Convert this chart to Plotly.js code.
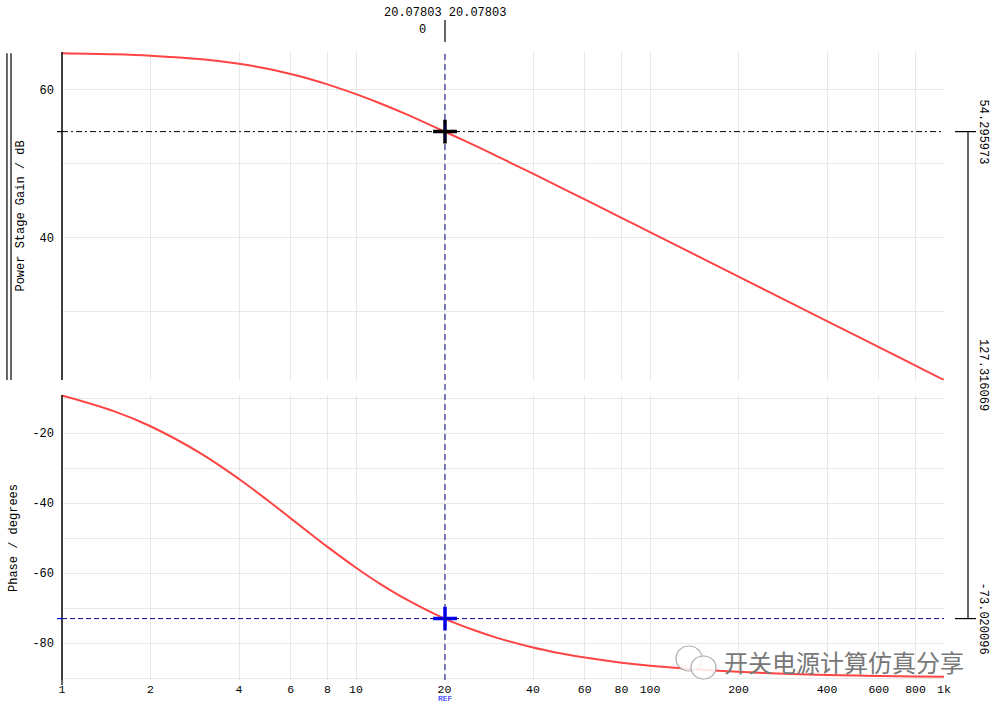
<!DOCTYPE html>
<html>
<head>
<meta charset="utf-8">
<script src="https://cdn.plot.ly/plotly-3.0.1.min.js"></script>
<style>
html,body{margin:0;padding:0;background:#fff;overflow:hidden;}
#chart{width:996px;height:704px;}
</style>
</head>
<body>
<div id="chart"></div>
<script>
// ---- data ----
var freqHz = [1, 1.5, 2, 3, 4, 5, 6, 7, 8, 10, 12, 15, 20, 25, 30, 40, 50, 60, 80, 100, 150, 200, 300, 400, 500, 600, 800, 1000];
var gainDb = [64.89, 64.75, 64.56, 64.07, 63.46, 62.79, 62.08, 61.38, 60.68, 59.36, 58.16, 56.56, 54.31, 52.54, 51.03, 48.61, 46.71, 45.14, 42.66, 40.73, 37.22, 34.72, 31.21, 28.71, 26.77, 25.19, 22.69, 20.75];
var phaseDeg = [-9.27, -13.75, -18.07, -26.08, -33.13, -39.20, -44.39, -48.79, -52.54, -58.49, -62.94, -67.77, -73.02, -76.22, -78.45, -81.29, -83.01, -84.17, -85.62, -86.49, -87.66, -88.24, -88.83, -89.12, -89.30, -89.41, -89.56, -89.65];

var xTickVals = [1, 2, 4, 6, 8, 10, 20, 40, 60, 80, 100, 200, 400, 600, 800, 1000];
var xTickText = ['1', '2', '4', '6', '8', '10', '20', '40', '60', '80', '100', '200', '400', '600', '800', '1k'];
var gainTickVals = [30, 40, 50, 60];
var gainTickText = ['', '40', '', '60'];
var phaseTickVals = [-10, -20, -30, -40, -50, -60, -70, -80, -90];
var phaseTickText = ['', '-20', '', '-40', '', '-60', '', '-80', ''];

var cursorFreq = 20.07803;
var cursorGain = 54.295973;
var cursorPhase = -73.020096;
var cursorDiff = 127.316069;

// ---- layout helpers ----
var xRange = [0, 3];            // log10 of 1 .. 1000
var gainRange = [20.75, 65.05];
var phaseRange = [-90.57, -9.14];
var gainDomain = [0.4777, 1];
var phaseDomain = [0, 0.4538];
function xPaper(f){ return (Math.log10(f) - xRange[0]) / (xRange[1] - xRange[0]); }
function yPaperGain(v){ return gainDomain[0] + (v - gainRange[0]) / (gainRange[1] - gainRange[0]) * (gainDomain[1] - gainDomain[0]); }
function yPaperPhase(v){ return phaseDomain[0] + (v - phaseRange[0]) / (phaseRange[1] - phaseRange[0]) * (phaseDomain[1] - phaseDomain[0]); }

var FONT = 'Liberation Mono, DejaVu Sans Mono, monospace';
var GRID = '#e8e8e8';
var RED = '#ff4444';

var traces = [
  {x: freqHz, y: gainDb, xaxis: 'x', yaxis: 'y', mode: 'lines', line: {color: RED, width: 2, shape: 'spline'}, hoverinfo: 'skip'},
  {x: freqHz, y: phaseDeg, xaxis: 'x2', yaxis: 'y2', mode: 'lines', line: {color: RED, width: 2, shape: 'spline'}, hoverinfo: 'skip'},
  {x: [cursorFreq], y: [cursorGain], xaxis: 'x', yaxis: 'y', mode: 'markers', cliponaxis: false,
   marker: {symbol: 'cross-thin', size: 17, color: '#000', line: {color: '#000', width: 3.5}}},
  {x: [cursorFreq], y: [cursorPhase], xaxis: 'x2', yaxis: 'y2', mode: 'markers', cliponaxis: false,
   marker: {symbol: 'cross-thin', size: 17, color: '#0000ff', line: {color: '#0000ff', width: 3.5}}}
];

var xc = xPaper(cursorFreq);
var yG = yPaperGain(cursorGain);
var yP = yPaperPhase(cursorPhase);
var xRight = (968 - 62) / 882;

var shapes = [
  // left axis lines
  {type: 'line', xref: 'paper', yref: 'paper', x0: 0, x1: 0, y0: gainDomain[0], y1: gainDomain[1], line: {color: '#000', width: 1.5}},
  {type: 'line', xref: 'paper', yref: 'paper', x0: 0, x1: 0, y0: phaseDomain[0], y1: phaseDomain[1], line: {color: '#000', width: 1.5}},
  // double legend lines far left
  {type: 'line', xref: 'paper', yref: 'paper', x0: -0.0624, x1: -0.0624, y0: gainDomain[0], y1: gainDomain[1] - 0.002, line: {color: '#000', width: 1.2}},
  {type: 'line', xref: 'paper', yref: 'paper', x0: -0.0578, x1: -0.0578, y0: gainDomain[0], y1: gainDomain[1] - 0.002, line: {color: '#000', width: 1.2}},
  // horizontal cursor lines
  {type: 'line', xref: 'paper', yref: 'paper', x0: 0, x1: 1, y0: yG, y1: yG, line: {color: '#000', width: 1, dash: '6px,3px,2px,3px'}},
  {type: 'line', xref: 'paper', yref: 'paper', x0: 0, x1: 1, y0: yP, y1: yP, line: {color: '#00009a', width: 1, dash: '5px,3px'}},
  // vertical cursor line
  {type: 'line', xref: 'paper', yref: 'paper', x0: xc, x1: xc, y0: 0, y1: 1, line: {color: '#00008a', width: 1, dash: '6px,4px'}},
  // top solid marker line above plot
  {type: 'line', xref: 'paper', yref: 'paper', x0: xc, x1: xc, y0: 1 + 10/628, y1: 1 + 32/628, line: {color: '#000', width: 1.2}},
  // left small ticks
  {type: 'line', xref: 'paper', yref: 'paper', x0: -5/882, x1: 0, y0: yG, y1: yG, line: {color: '#000', width: 1.2}},
  {type: 'line', xref: 'paper', yref: 'paper', x0: -5/882, x1: 0, y0: yP, y1: yP, line: {color: '#0000ff', width: 1.2}},
  // right difference bracket
  {type: 'line', xref: 'paper', yref: 'paper', x0: xRight, x1: xRight, y0: yP, y1: yG, line: {color: '#000', width: 1.2}},
  {type: 'line', xref: 'paper', yref: 'paper', x0: (955-62)/882, x1: (976-62)/882, y0: yG, y1: yG, line: {color: '#000', width: 1.2}},
  {type: 'line', xref: 'paper', yref: 'paper', x0: (955-62)/882, x1: (976-62)/882, y0: yP, y1: yP, line: {color: '#000', width: 1.2}},
  // bottom tick at x=1
  {type: 'line', xref: 'paper', yref: 'paper', x0: 0, x1: 0, y0: 0, y1: -5/628, line: {color: '#000', width: 1.2}},
  // watermark logo (two bubbles)
  {type: 'circle', xref: 'paper', yref: 'paper', x0: (676-62)/882, x1: (702-62)/882, y0: (680-671)/628, y1: (680-646)/628, line: {color: '#aaa', width: 1.2}, fillcolor: 'rgba(255,255,255,0.85)'},
  {type: 'circle', xref: 'paper', yref: 'paper', x0: (691-62)/882, x1: (716-62)/882, y0: (680-679)/628, y1: (680-656)/628, line: {color: '#aaa', width: 1.2}, fillcolor: 'rgba(255,255,255,0.85)'}
];

var annotations = [
  {xref: 'paper', yref: 'paper', x: -0.047, y: (gainDomain[0] + gainDomain[1]) / 2, text: 'Power Stage Gain / dB', textangle: -90, showarrow: false, font: {family: FONT, size: 12, color: '#000'}, xanchor: 'center', yanchor: 'middle'},
  {xref: 'paper', yref: 'paper', x: -0.055, y: (phaseDomain[0] + phaseDomain[1]) / 2, text: 'Phase / degrees', textangle: -90, showarrow: false, font: {family: FONT, size: 12, color: '#000'}, xanchor: 'center', yanchor: 'middle'},
  {xref: 'paper', yref: 'paper', x: xc, y: 1 + 39/628, text: cursorFreq.toFixed(5) + ' ' + cursorFreq.toFixed(5), showarrow: false, font: {family: FONT, size: 12, color: '#000'}, xanchor: 'center', yanchor: 'middle'},
  {xref: 'paper', yref: 'paper', x: (422-62)/882, y: 1 + 22/628, text: '0', showarrow: false, font: {family: FONT, size: 12, color: '#000'}, xanchor: 'center', yanchor: 'middle'},
  {xref: 'paper', yref: 'paper', x: (983-62)/882, y: yG, text: cursorGain.toFixed(6), textangle: 90, showarrow: false, font: {family: FONT, size: 12, color: '#000'}, xanchor: 'center', yanchor: 'middle'},
  {xref: 'paper', yref: 'paper', x: (983-62)/882, y: (yG + yP) / 2, text: cursorDiff.toFixed(6), textangle: 90, showarrow: false, font: {family: FONT, size: 12, color: '#000'}, xanchor: 'center', yanchor: 'middle'},
  {xref: 'paper', yref: 'paper', x: (983-62)/882, y: yP, text: cursorPhase.toFixed(6), textangle: 90, showarrow: false, font: {family: FONT, size: 12, color: '#000'}, xanchor: 'center', yanchor: 'middle'},
  {xref: 'paper', yref: 'paper', x: xc, y: -(704-680)/628, text: 'REF', showarrow: false, font: {family: FONT, size: 8, color: '#0000ff'}, xanchor: 'center', yanchor: 'bottom', borderpad: 0},
  {xref: 'paper', yref: 'paper', x: (844-62)/882, y: (680-661)/628, text: '开关电源计算仿真分享', showarrow: false, font: {family: 'Noto Sans CJK SC', size: 24, color: '#777'}, xanchor: 'center', yanchor: 'middle'}
];

var axisCommon = {
  type: 'log', range: xRange, tickvals: xTickVals, gridcolor: GRID, gridwidth: 1,
  showline: false, zeroline: false, ticks: '', tickfont: {family: FONT, size: 11.5, color: '#000'}
};

var layout = {
  width: 996, height: 704,
  margin: {l: 62, r: 52, t: 52, b: 24, pad: 0},
  paper_bgcolor: '#fff', plot_bgcolor: '#fff',
  showlegend: false,
  xaxis: Object.assign({}, axisCommon, {domain: [0, 1], anchor: 'y', showticklabels: false}),
  xaxis2: Object.assign({}, axisCommon, {domain: [0, 1], anchor: 'y2', matches: 'x', ticktext: xTickText, showticklabels: true, ticklen: 0}),
  yaxis: {domain: gainDomain, range: gainRange, tickvals: gainTickVals, ticktext: gainTickText, gridcolor: GRID, zeroline: false, showline: false, ticks: '', ticklabelstandoff: 7, tickfont: {family: FONT, size: 12, color: '#000'}},
  yaxis2: {domain: phaseDomain, range: phaseRange, tickvals: phaseTickVals, ticktext: phaseTickText, gridcolor: GRID, zeroline: false, showline: false, ticks: '', ticklabelstandoff: 7, tickfont: {family: FONT, size: 12, color: '#000'}},
  shapes: shapes,
  annotations: annotations
};

Plotly.newPlot('chart', traces, layout, {staticPlot: true, displayModeBar: false});
</script>
</body>
</html>
